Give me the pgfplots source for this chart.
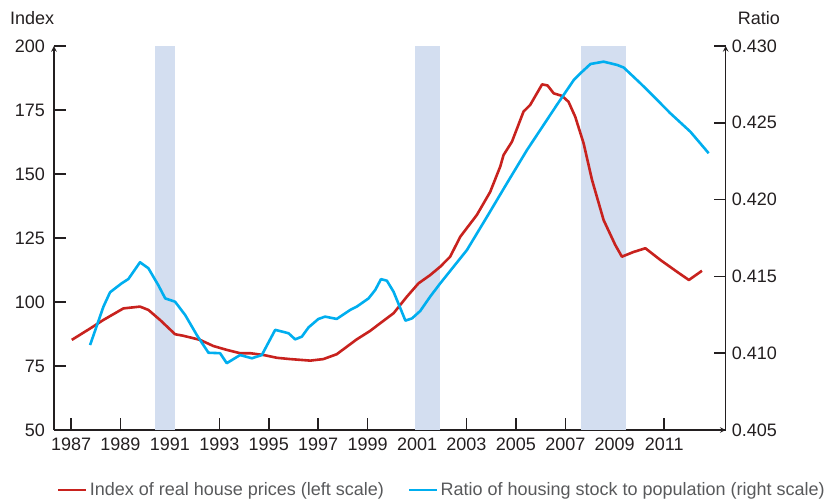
\documentclass[border=0pt]{standalone}
\usepackage{fontspec}
\setmainfont{Liberation Sans}
\usepackage{pgfplots}
\pgfplotsset{compat=1.18}
\definecolor{hred}{HTML}{C8221E}
\definecolor{hblue}{HTML}{00AEEF}
\definecolor{recess}{HTML}{D3DEF0}
\definecolor{axcol}{HTML}{231F20}
\definecolor{legtxt}{HTML}{58595B}
\pgfplotsset{
  common/.style={
    scale only axis, width=671.7pt, height=384pt,
    xmin=1986.31, xmax=2013.49,
    axis line style={-, line width=1.5pt, color=axcol},
    major tick length=12pt,
    tick style={line width=1.5pt, color=axcol},
    ticklabel style={font=\fontsize{18}{21}\selectfont, text=axcol},
    /pgf/number format/assume math mode=true,
  }
}
\begin{document}
\fontsize{18}{21}\selectfont
\begin{tikzpicture}
\useasboundingbox (-54pt,-71pt) rectangle (784pt,430pt);
\begin{axis}[common, name=main,
  ymin=50, ymax=200,
  axis x line=bottom, axis y line=left,
  tick align=inside, xtick align=inside, ytick align=inside,
  xtick pos=bottom, ytick pos=left,
  xtick={1987,1989,...,2011}, ytick={50,75,...,200},
  xticklabel style={/pgf/number format/set thousands separator={}, yshift=-2pt},
  yticklabel style={xshift=-3pt},
]
\addplot[draw=none, fill=recess] coordinates {(1990.40,50) (1990.40,200) (1991.20,200) (1991.20,50)} -- cycle;
\addplot[draw=none, fill=recess] coordinates {(2000.90,50) (2000.90,200) (2001.94,200) (2001.94,50)} -- cycle;
\addplot[draw=none, fill=recess] coordinates {(2007.65,50) (2007.65,200) (2009.46,200) (2009.46,50)} -- cycle;
\addplot[hred, line width=2.6pt, line join=round] coordinates {
(1987.03,85.2) (1987.78,89.7) (1988.31,93.0) (1989.12,97.5) (1989.79,98.2)
(1990.13,96.9) (1990.60,93.0) (1991.21,87.4) (1991.55,86.8) (1992.22,85.2)
(1992.76,82.8) (1993.30,81.3) (1993.84,80.0) (1994.25,80.0) (1994.79,79.3)
(1995.33,78.2) (1995.87,77.7) (1996.68,77.1) (1997.21,77.7) (1997.75,79.6)
(1998.56,85.4) (1999.10,88.7) (1999.51,91.7) (2000.05,95.6) (2000.59,102.1)
(2001.06,107.3) (2001.53,110.5) (2001.94,113.8) (2002.34,117.7) (2002.75,125.5)
(2003.42,134.0) (2003.96,143.0) (2004.37,153.0) (2004.50,157.4) (2004.84,162.6)
(2005.31,174.4) (2005.58,177.0) (2006.06,185.0) (2006.28,184.6) (2006.53,181.5)
(2006.87,180.5) (2007.13,178.2) (2007.40,172.4) (2007.74,162.0) (2008.08,147.7)
(2008.55,132.0) (2009.02,122.3) (2009.29,117.7) (2009.75,119.5) (2010.24,121.0)
(2010.85,116.4) (2011.52,111.8) (2012.00,108.6) (2012.53,112.2)
};
\end{axis}
\begin{axis}[common,
  ymin=0.405, ymax=0.430,
  axis x line=none, axis y line=right,
  tick align=inside, ytick align=inside, ytick pos=right,
  xtick=\empty,
  ytick={0.405,0.41,0.415,0.42,0.425,0.43},
  yticklabel style={/pgf/number format/.cd, fixed, fixed zerofill, precision=3},
  legend style={at={(0,-0.156)}, anchor=west, draw=none, fill=none,
    legend columns=2, font=\fontsize{18}{21}\selectfont, text=legtxt,
    /tikz/every even column/.append style={column sep=22pt}},
  legend image code/.code={\draw[#1] (0pt,0pt) -- (28pt,0pt);},
]
\addlegendimage{hred, line width=2.6pt}
\addlegendentry{Index of real house prices (left scale)}
\addplot[hblue, line width=2.6pt, line join=round] coordinates {
(1987.77,0.41053) (1988.31,0.41303) (1988.58,0.41397) (1989.05,0.41455) (1989.32,0.41483)
(1989.79,0.41592) (1990.13,0.41553) (1990.53,0.41443) (1990.81,0.41357) (1991.21,0.41335)
(1991.62,0.41248) (1992.09,0.41118) (1992.56,0.41003) (1993.03,0.41000) (1993.30,0.40935)
(1993.84,0.40988) (1994.32,0.40967) (1994.72,0.40988) (1995.26,0.41152) (1995.80,0.41130)
(1996.07,0.41090) (1996.34,0.41108) (1996.61,0.41168) (1997.01,0.41223) (1997.28,0.41238)
(1997.75,0.41223) (1998.30,0.41282) (1998.56,0.41303) (1999.04,0.41357) (1999.31,0.41412)
(1999.54,0.41482) (1999.78,0.41472) (2000.05,0.41400) (2000.53,0.41212) (2000.80,0.41227)
(2001.13,0.41275) (2001.53,0.41368) (2001.94,0.41455) (2003.02,0.41672) (2003.83,0.41888)
(2004.64,0.42107) (2005.45,0.42323) (2006.66,0.42617) (2007.34,0.42778) (2007.61,0.42822)
(2008.02,0.42883) (2008.55,0.42898) (2009.09,0.42877) (2009.36,0.42860) (2010.04,0.42757)
(2010.45,0.42692) (2011.25,0.42562) (2012.06,0.42442) (2012.80,0.42302)
};
\addlegendentry{Ratio of housing stock to population (right scale)}
\end{axis}
\node[anchor=base west, inner sep=0pt, text=axcol] at ([xshift=-44pt,yshift=21pt]main.north west) {Index};
\node[anchor=base east, inner sep=0pt, text=axcol] at ([xshift=54.3pt,yshift=21pt]main.north east) {Ratio};
\end{tikzpicture}
\end{document}
